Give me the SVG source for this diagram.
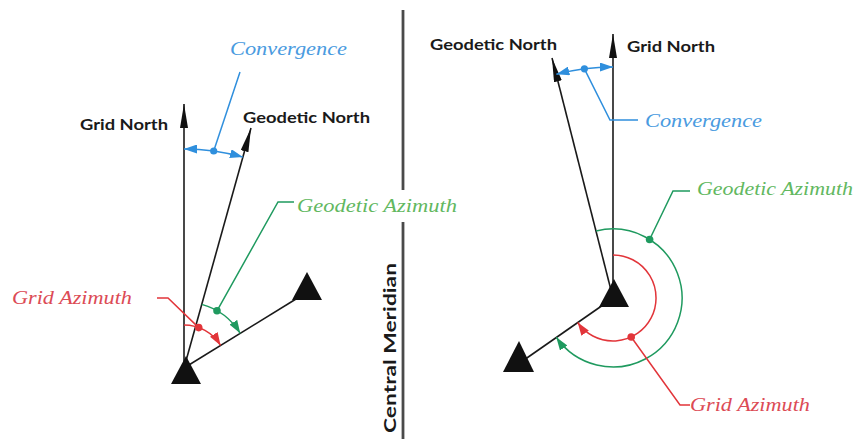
<svg xmlns="http://www.w3.org/2000/svg" width="856" height="439" viewBox="0 0 856 439">
<defs>
<style>
.bg{fill:#ffffff}
.ln{stroke:#1a1a1a;stroke-width:1.6;fill:none}
.mer{stroke:#4a4a4a;stroke-width:2.8;fill:none}
.tri{fill:#111111}
.lbl{font-family:"Lato","Open Sans",sans-serif;font-weight:700;font-size:15px;fill:#1a1a1a}
.mlbl{font-family:"Lato","Open Sans",sans-serif;font-weight:700;font-size:17px;fill:#1a1a1a}
.it{font-family:"Liberation Serif","DejaVu Serif",serif;font-style:italic;font-size:19px}
.bt{fill:#4a9be0}
.gt{fill:#62b85f}
.rt{fill:#dc4b55}
.bl{stroke:#2f8fdd;stroke-width:1.5;fill:none}
.gl{stroke:#1f9a5f;stroke-width:1.5;fill:none}
.rl{stroke:#e2353a;stroke-width:1.5;fill:none}
.bd{fill:#2f8fdd}
.gd{fill:#1f9a5f}
.rd{fill:#e2353a}
</style>
<marker id="north" markerUnits="userSpaceOnUse" viewBox="0 0 24 8" refX="24" refY="4" markerWidth="24" markerHeight="8" orient="auto">
<path d="M0,0 L24,4 L0,8 Z" fill="#111111"/>
</marker>
<marker id="ab" markerUnits="userSpaceOnUse" viewBox="0 0 13 9" refX="13" refY="4.5" markerWidth="13" markerHeight="9" orient="auto-start-reverse">
<path d="M0,0 L13,4.5 L0,9 Z" fill="#2f8fdd"/>
</marker>
<marker id="ag" markerUnits="userSpaceOnUse" viewBox="0 0 13 9" refX="13" refY="4.5" markerWidth="13" markerHeight="9" orient="auto-start-reverse">
<path d="M0,0 L13,4.5 L0,9 Z" fill="#1f9a5f"/>
</marker>
<marker id="ar" markerUnits="userSpaceOnUse" viewBox="0 0 13 9" refX="13" refY="4.5" markerWidth="13" markerHeight="9" orient="auto-start-reverse">
<path d="M0,0 L13,4.5 L0,9 Z" fill="#e2353a"/>
</marker>
</defs>
<rect class="bg" x="0" y="0" width="856" height="439"/>

<g id="connectors">
  <!-- left panel -->
  <line class="ln" x1="184" y1="368" x2="184" y2="104" marker-end="url(#north)"/>
  <line class="ln" x1="184" y1="368" x2="251" y2="128" marker-end="url(#north)"/>
  <line class="ln" x1="184" y1="368" x2="296" y2="299"/>
  <path class="bl" d="M184,149 A219,219 0 0 1 242.9,157.1" marker-start="url(#ab)" marker-end="url(#ab)"/>
  <path class="rl" d="M184,325 A43,43 0 0 1 220.6,345.4" marker-end="url(#ar)"/>
  <path class="gl" d="M201.8,304.4 A66,66 0 0 1 240.2,333.3" marker-end="url(#ag)"/>
  <polyline class="bl" points="240,72 213.7,151"/>
  <polyline class="rl" points="157,298 168,298 198.7,327.6"/>
  <polyline class="gl" points="294,202 278,202 217,310.8"/>
  <!-- right panel -->
  <line class="ln" x1="613" y1="298" x2="613" y2="34" marker-end="url(#north)"/>
  <line class="ln" x1="613" y1="298" x2="552" y2="58" marker-end="url(#north)"/>
  <line class="ln" x1="613" y1="298" x2="524" y2="360"/>
  <path class="bl" d="M556.4,74.2 A231,231 0 0 1 613,67" marker-start="url(#ab)" marker-end="url(#ab)"/>
  <path class="rl" d="M613,255 A43,43 0 1 1 577.7,322.5" marker-end="url(#ar)"/>
  <path class="gl" d="M596.1,231.1 A69,69 0 1 1 556.3,337.3" marker-end="url(#ag)"/>
  <polyline class="bl" points="584.4,68.8 610,120 638,120"/>
  <polyline class="gl" points="649.6,239.5 673,191 690,191"/>
  <polyline class="rl" points="631.2,337 680,405 690,405"/>
</g>

<g id="central-meridian">
  <line class="mer" x1="403" y1="10" x2="403" y2="190"/>
  <line class="mer" x1="403" y1="222" x2="403" y2="439"/>
  <text class="mlbl" transform="translate(396,433) rotate(-90)" textLength="170" lengthAdjust="spacingAndGlyphs">Central Meridian</text>
</g>

<g id="left-station">
  <polygon class="tri" points="186,356 171,384 201,384"/>
</g>
<g id="left-target">
  <polygon class="tri" points="307,272 292,300 322,300"/>
</g>
<g id="right-station">
  <polygon class="tri" points="614,279 599,307 629,307"/>
</g>
<g id="right-target">
  <polygon class="tri" points="519,341 503,372 534,372"/>
</g>

<g id="left-dots">
  <circle class="bd" cx="213.7" cy="151" r="3.6"/>
  <circle class="rd" cx="198.7" cy="327.6" r="3.8"/>
  <circle class="gd" cx="217" cy="310.8" r="3.8"/>
</g>
<g id="right-dots">
  <circle class="bd" cx="584.4" cy="68.8" r="3.6"/>
  <circle class="rd" cx="631.2" cy="337" r="3.8"/>
  <circle class="gd" cx="649.6" cy="239.5" r="3.8"/>
</g>

<g id="left-grid-north"><text class="lbl" x="80" y="130" textLength="88" lengthAdjust="spacingAndGlyphs">Grid North</text></g>
<g id="left-geodetic-north"><text class="lbl" x="243" y="123" textLength="127" lengthAdjust="spacingAndGlyphs">Geodetic North</text></g>
<g id="left-convergence"><text class="it bt" x="230" y="55" textLength="117" lengthAdjust="spacingAndGlyphs">Convergence</text></g>
<g id="left-geodetic-azimuth"><text class="it gt" x="297" y="212" textLength="160" lengthAdjust="spacingAndGlyphs">Geodetic Azimuth</text></g>
<g id="left-grid-azimuth"><text class="it rt" x="12" y="304" textLength="120" lengthAdjust="spacingAndGlyphs">Grid Azimuth</text></g>

<g id="right-geodetic-north"><text class="lbl" x="430" y="50" textLength="127" lengthAdjust="spacingAndGlyphs">Geodetic North</text></g>
<g id="right-grid-north"><text class="lbl" x="627" y="52" textLength="88" lengthAdjust="spacingAndGlyphs">Grid North</text></g>
<g id="right-convergence"><text class="it bt" x="645" y="127" textLength="117" lengthAdjust="spacingAndGlyphs">Convergence</text></g>
<g id="right-geodetic-azimuth"><text class="it gt" x="697" y="195" textLength="156" lengthAdjust="spacingAndGlyphs">Geodetic Azimuth</text></g>
<g id="right-grid-azimuth"><text class="it rt" x="690" y="411" textLength="120" lengthAdjust="spacingAndGlyphs">Grid Azimuth</text></g>
</svg>
